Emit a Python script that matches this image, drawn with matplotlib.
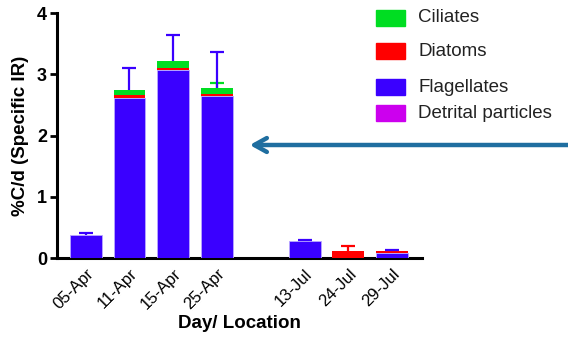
import matplotlib
matplotlib.use("Agg")
import matplotlib.pyplot as plt
import numpy as np

categories = ["05-Apr", "11-Apr", "15-Apr", "25-Apr", "13-Jul", "24-Jul", "29-Jul"]
positions = [0, 1, 2, 3, 5, 6, 7]
flagellates = [0.38, 2.62, 3.07, 2.65, 0.27, 0.0, 0.09]
diatoms = [0.0, 0.04, 0.03, 0.02, 0.01, 0.11, 0.02]
ciliates = [0.0, 0.09, 0.12, 0.11, 0.0, 0.0, 0.0]
detrital = [0.0, 0.0, 0.0, 0.0, 0.0, 0.0, 0.0]
err_total = [0.03, 0.35, 0.42, 0.58, 0.01, np.nan, 0.025]
err_diatoms_2407 = 0.09
err_ciliates_2504 = 0.08
legend_labels = ["Ciliates", "Diatoms", "Flagellates", "Detrital particles"]

c_cil = "#00dd22"
c_dia = "#ff0000"
c_fla = "#3a00ff"
c_det = "#cc00ee"

plt.rcParams['font.family'] = ['Liberation Sans', 'DejaVu Sans']
fig = plt.figure(figsize=(5.68, 3.52), dpi=100)
ax = fig.add_axes([0.100, 0.267, 0.643, 0.696])

w = 0.73
x = np.array(positions, dtype=float)
fla = np.array(flagellates); dia = np.array(diatoms); cil = np.array(ciliates); det = np.array(detrital)
ax.bar(x, fla, w, color=c_fla, edgecolor="#b9a8ff", linewidth=0.6, zorder=3)
ax.bar(x, dia, w, bottom=fla, color=c_dia, edgecolor="none", zorder=3)
ax.bar(x, cil, w, bottom=fla + dia, color=c_cil, edgecolor="none", zorder=3)
ax.bar(x, det, w, bottom=fla + dia + cil, color=c_det, edgecolor="none", zorder=3)

tops = fla + dia + cil + det


def upper_err(xs, ys, e, color, z):
    eb = ax.errorbar(xs, ys, yerr=[np.zeros(len(xs)), e], fmt="none",
                     ecolor=color, elinewidth=1.6, capsize=5, capthick=1.6, zorder=z)
    caps = eb[1]
    if len(caps) >= 2:
        caps[0].set_visible(False)


err = np.array(err_total)
mask = ~np.isnan(err)
upper_err(x[mask], tops[mask], err[mask], c_fla, 4)
i = categories.index("24-Jul")
upper_err([x[i]], [tops[i]], [err_diatoms_2407], c_dia, 4)
j = categories.index("25-Apr")
upper_err([x[j]], [tops[j]], [err_ciliates_2504], c_cil, 2)

ax.set_xlim(-0.66, 7.68)
ax.set_ylim(0, 4)
ax.set_yticks([0, 1, 2, 3, 4])
ax.set_xticks(positions)
ax.set_xticklabels(categories, rotation=45, ha="right", rotation_mode="anchor", fontsize=12)
ax.tick_params(axis="x", length=0, pad=6)
ax.tick_params(axis="y", length=5, width=2, labelsize=13, pad=2)
for lab in ax.get_yticklabels():
    lab.set_fontweight("bold")
for s in ["top", "right"]:
    ax.spines[s].set_visible(False)
for s in ["left", "bottom"]:
    ax.spines[s].set_linewidth(2.2)
ax.set_ylabel("%C/d (Specific IR)", fontsize=13.5, fontweight="bold", labelpad=6)
ax.set_xlabel("Day/ Location", fontsize=13.5, fontweight="bold", labelpad=2)

# legend (manual placement)
leg_colors = [c_cil, c_dia, c_fla, c_det]
leg_y = [18, 51, 87, 113]
for lab, col, yy in zip(legend_labels, leg_colors, leg_y):
    fig.patches.append(plt.Rectangle((376 / 568, 1 - (yy + 8) / 352), 29 / 568, 16 / 352,
                                     transform=fig.transFigure, color=col))
    fig.text(418 / 568, 1 - yy / 352, lab, fontsize=13.5, va="center", ha="left", color="#222222")

# arrow
ax.annotate("", xy=(247 / 568, 1 - 145 / 352), xycoords="figure fraction",
            xytext=(575 / 568, 1 - 145 / 352), textcoords="figure fraction",
            arrowprops=dict(arrowstyle="->,head_length=0.9,head_width=0.5",
                            color="#1f6ea0", lw=3.2, capstyle="round", joinstyle="round"),
            annotation_clip=False)

fig.savefig("out.png", dpi=100)
